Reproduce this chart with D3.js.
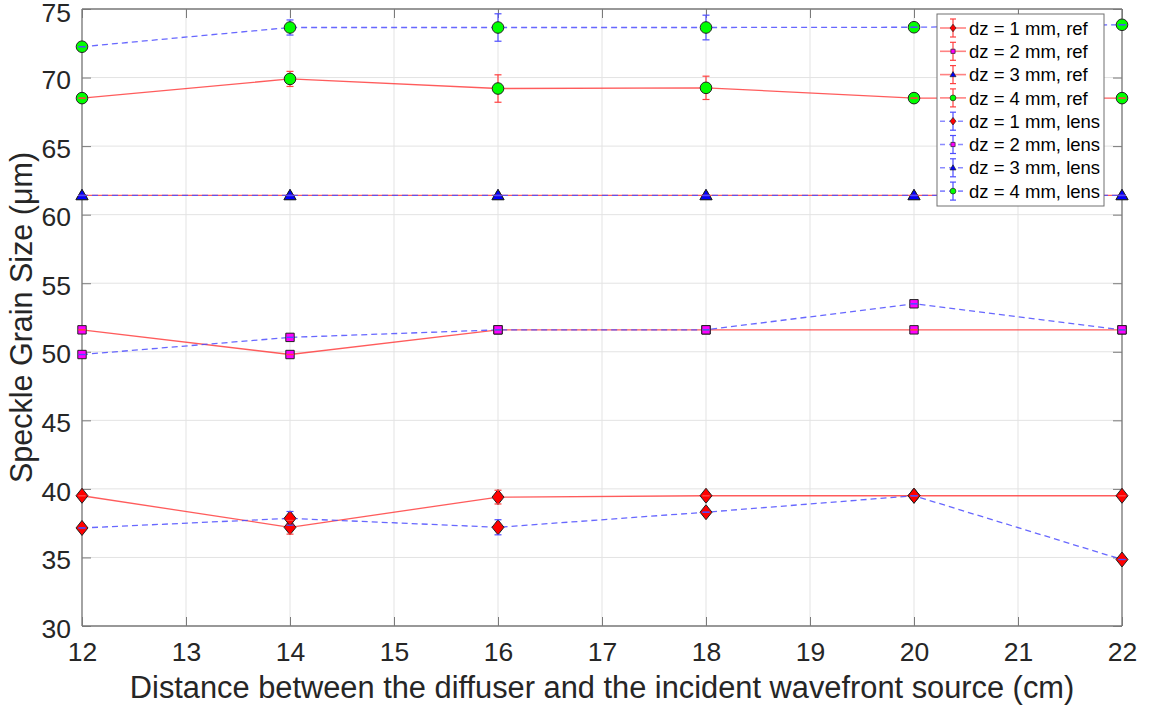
<!DOCTYPE html>
<html><head><meta charset="utf-8">
<script src="https://cdn.jsdelivr.net/npm/d3@7"></script>
<style>
body{margin:0;background:#fff;}
svg{display:block;font-family:"Liberation Sans",Arial,Helvetica,sans-serif;}
</style>
</head><body>
<svg id="chart" width="1151" height="712"></svg>
<script>
// ---------------- data ----------------
const distances = [12, 14, 16, 18, 20, 22];
const xTickValues = [12, 13, 14, 15, 16, 17, 18, 19, 20, 21, 22];
const yTickValues = [30, 35, 40, 45, 50, 55, 60, 65, 70, 75];

const refDz1 = [39.5, 37.2, 39.4, 39.5, 39.5, 39.5];
const refDz2 = [51.6, 49.8, 51.6, 51.6, 51.6, 51.6];
const refDz3 = [61.4, 61.4, 61.4, 61.4, 61.4, 61.4];
const refDz4 = [68.5, 69.9, 69.2, 69.25, 68.5, 68.5];
const lensDz1 = [37.15, 37.85, 37.2, 38.3, 39.5, 34.85];
const lensDz2 = [49.8, 51.05, 51.6, 51.6, 53.5, 51.6];
const lensDz3 = [61.4, 61.4, 61.4, 61.4, 61.4, 61.4];
const lensDz4 = [72.25, 73.65, 73.65, 73.65, 73.67, 73.85];

const refDz1Err = [0, 0.5, 0.5, 0, 0, 0];
const refDz2Err = [0, 0, 0, 0, 0, 0];
const refDz3Err = [0, 0, 0, 0, 0, 0];
const refDz4Err = [0, 0.55, 1.0, 0.85, 0, 0];
const lensDz1Err = [0, 0.5, 0.55, 0, 0, 0];
const lensDz2Err = [0, 0, 0, 0, 0, 0];
const lensDz3Err = [0, 0, 0, 0, 0, 0];
const lensDz4Err = [0, 0.55, 1.0, 0.9, 0, 0];

const seriesLabels = ["dz = 1 mm, ref", "dz = 2 mm, ref", "dz = 3 mm, ref", "dz = 4 mm, ref",
                      "dz = 1 mm, lens", "dz = 2 mm, lens", "dz = 3 mm, lens", "dz = 4 mm, lens"];
const xLabel = "Distance between the diffuser and the incident wavefront source (cm)";
const yLabel = "Speckle Grain Size (μm)";

// ---------------- styling ----------------
const series = [
  {label: seriesLabels[0], values: refDz1, err: refDz1Err, kind: "ref", marker: "diamond", fill: "#ff0000"},
  {label: seriesLabels[1], values: refDz2, err: refDz2Err, kind: "ref", marker: "square", fill: "#ff00ff"},
  {label: seriesLabels[2], values: refDz3, err: refDz3Err, kind: "ref", marker: "triangle", fill: "#0000ff"},
  {label: seriesLabels[3], values: refDz4, err: refDz4Err, kind: "ref", marker: "circle", fill: "#00ff00"},
  {label: seriesLabels[4], values: lensDz1, err: lensDz1Err, kind: "lens", marker: "diamond", fill: "#ff0000"},
  {label: seriesLabels[5], values: lensDz2, err: lensDz2Err, kind: "lens", marker: "square", fill: "#ff00ff"},
  {label: seriesLabels[6], values: lensDz3, err: lensDz3Err, kind: "lens", marker: "triangle", fill: "#0000ff"},
  {label: seriesLabels[7], values: lensDz4, err: lensDz4Err, kind: "lens", marker: "circle", fill: "#00ff00"}
];
const lineColor = {ref: "#ff4040", lens: "#4d4dff"};
const lineDash = {ref: null, lens: "6,4"};

const svg = d3.select("#chart");
const L = 82, R = 1122, T = 9, B = 626;

const x = d3.scaleLinear().domain([12, 22]).range([L, R]);
const y = d3.scaleLinear().domain([30, 75]).range([B, T]);

// marker path generator (centered at 0,0), s = scale factor
function markerPath(type, s) {
  const p = d3.path();
  if (type === "diamond") {
    const w = 6 * s, h = 7.5 * s;
    p.moveTo(0, -h); p.lineTo(w, 0); p.lineTo(0, h); p.lineTo(-w, 0); p.closePath();
  } else if (type === "square") {
    const a = 4.2 * s;
    p.rect(-a, -a, 2 * a, 2 * a);
  } else if (type === "triangle") {
    const w = 6 * s, h = 6 * s;
    p.moveTo(0, -h); p.lineTo(w, h * 0.7); p.lineTo(-w, h * 0.7); p.closePath();
  } else {
    p.arc(0, 0, 5.8 * s, 0, 2 * Math.PI);
  }
  return p.toString();
}

// grid
const grid = svg.append("g");
grid.selectAll("line.gx").data(xTickValues).enter().append("line")
  .attr("x1", d => x(d)).attr("x2", d => x(d)).attr("y1", T).attr("y2", B)
  .attr("stroke", "#e3e3e3").attr("stroke-width", 1);
grid.selectAll("line.gy").data(yTickValues).enter().append("line")
  .attr("x1", L).attr("x2", R).attr("y1", d => y(d)).attr("y2", d => y(d))
  .attr("stroke", "#e3e3e3").attr("stroke-width", 1);

// axes (ticks inward, box)
const tickLen = 9;
const xAxisB = d3.axisBottom(x).tickValues(xTickValues).tickSize(-tickLen).tickPadding(16).tickFormat(d3.format("d"));
const xAxisT = d3.axisTop(x).tickValues(xTickValues).tickSize(-tickLen).tickFormat("");
const yAxisL = d3.axisLeft(y).tickValues(yTickValues).tickSize(-tickLen).tickPadding(11).tickFormat(d3.format("d"));
const yAxisR = d3.axisRight(y).tickValues(yTickValues).tickSize(-tickLen).tickFormat("");

function styleAxis(g) {
  g.select(".domain").attr("stroke", "#7a7a7a").attr("stroke-width", 1.3);
  g.selectAll(".tick line").attr("stroke", "#7a7a7a").attr("stroke-width", 1);
  g.selectAll(".tick text").attr("fill", "#262626").attr("font-size", 26.5)
    .attr("font-family", '"Liberation Sans",Arial,sans-serif');
}
svg.append("g").attr("transform", `translate(0,${B})`).call(xAxisB).call(styleAxis)
  .call(g => g.select(".domain").attr("d", `M${L},0H${R}`));
svg.append("g").attr("transform", `translate(0,${T})`).call(xAxisT).call(styleAxis)
  .call(g => g.select(".domain").attr("d", `M${L},0H${R}`));
svg.append("g").attr("transform", `translate(${L},0)`).call(yAxisL).call(styleAxis)
  .call(g => g.select(".domain").attr("d", `M0,${T}V${B}`))
  .call(g => g.selectAll(".tick text").attr("dy", d => d === 75 ? "0.48em" : "0.42em"));
svg.append("g").attr("transform", `translate(${R},0)`).call(yAxisR).call(styleAxis)
  .call(g => g.select(".domain").attr("d", `M0,${T}V${B}`));

// axis labels
svg.append("text").attr("x", (L + R) / 2).attr("y", 698).attr("text-anchor", "middle")
  .attr("font-size", 30.8).attr("fill", "#262626").text(xLabel);
svg.append("text").attr("transform", `translate(32,${(T + B) / 2}) rotate(-90)`)
  .attr("text-anchor", "middle").attr("font-size", 30.5).attr("fill", "#262626").text(yLabel);

// data layers
const lineGen = d3.line().x((d, i) => x(distances[i])).y(d => y(d));
const layerLines = svg.append("g");
const layerBars = svg.append("g");
const layerMarkers = svg.append("g");
const layerCaps = svg.append("g");
const capHalf = 3.5;

series.forEach(s => {
  const col = lineColor[s.kind];
  layerLines.append("path").datum(s.values).attr("d", lineGen)
    .attr("fill", "none").attr("stroke", col).attr("stroke-width", 1.3).attr("stroke-opacity", 0.85)
    .attr("stroke-dasharray", lineDash[s.kind]);
  s.values.forEach((v, i) => {
    const cx = x(distances[i]);
    const e = s.err[i];
    if (e > 0) {
      layerBars.append("line").attr("x1", cx).attr("x2", cx).attr("y1", y(v - e)).attr("y2", y(v + e))
        .attr("stroke", col).attr("stroke-width", 1.2);
    }
    [v - e, v + e].forEach(yy => {
      layerCaps.append("line").attr("x1", cx - capHalf).attr("x2", cx + capHalf)
        .attr("y1", y(yy)).attr("y2", y(yy)).attr("stroke", col).attr("stroke-width", 1.2);
    });
    layerMarkers.append("path").attr("d", markerPath(s.marker, 1))
      .attr("transform", `translate(${cx},${y(v)})`)
      .attr("fill", s.fill).attr("stroke", "#222").attr("stroke-width", 1);
  });
});

// legend
const lg = svg.append("g");
const lgX = 937, lgY = 14, lgW = 167, lgH = 192, rowH = 23.3, row0 = 28;
lg.append("rect").attr("x", lgX).attr("y", lgY).attr("width", lgW).attr("height", lgH)
  .attr("fill", "#fff").attr("stroke", "#707070").attr("stroke-width", 1);
series.forEach((s, i) => {
  const cy = row0 + i * rowH;
  const col = lineColor[s.kind];
  const g = lg.append("g");
  g.append("line").attr("x1", lgX + 3).attr("x2", lgX + 29).attr("y1", cy).attr("y2", cy)
    .attr("stroke", col).attr("stroke-width", 1.6).attr("stroke-opacity", 0.65)
    .attr("stroke-dasharray", s.kind === "lens" ? "5,4" : null);
  const mx = lgX + 16;
  g.append("line").attr("x1", mx).attr("x2", mx).attr("y1", cy - 9).attr("y2", cy + 9)
    .attr("stroke", col).attr("stroke-width", 1.2);
  [cy - 9, cy + 9].forEach(yy => g.append("line").attr("x1", mx - 3).attr("x2", mx + 3)
    .attr("y1", yy).attr("y2", yy).attr("stroke", col).attr("stroke-width", 1.2));
  g.append("path").attr("d", markerPath(s.marker, 0.5)).attr("transform", `translate(${mx},${cy})`)
    .attr("fill", s.fill).attr("stroke", "#222").attr("stroke-width", 0.7);
  g.append("text").attr("x", 969).attr("y", cy).attr("dy", "0.36em")
    .attr("font-size", 18.5).attr("fill", "#000").text(s.label);
});
</script>
</body></html>
